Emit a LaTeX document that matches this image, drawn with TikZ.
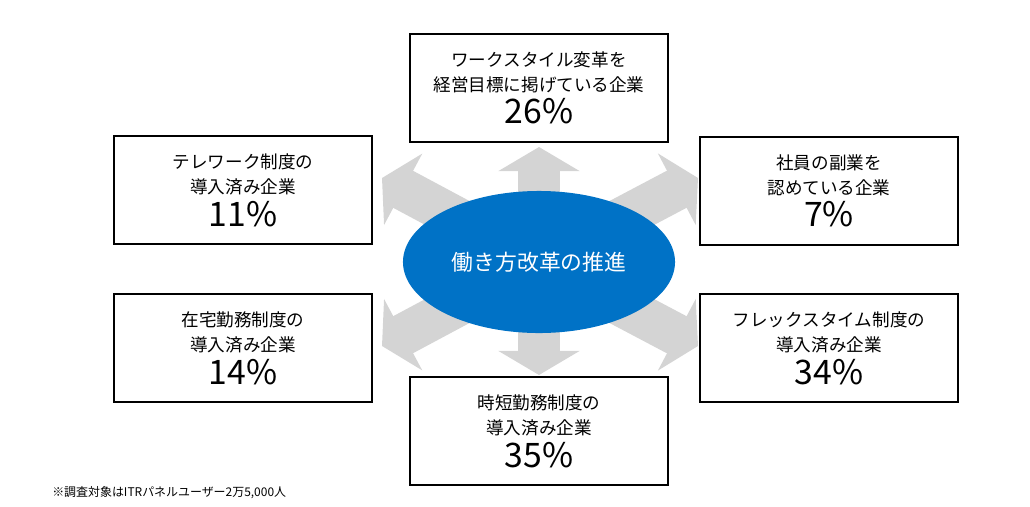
\documentclass[tikz,border=0pt]{standalone}
\usepackage{fontspec}
\setmainfont{Noto Sans CJK JP}
\usetikzlibrary{arrows.meta,shapes.geometric}
\definecolor{ellblue}{RGB}{0,114,198}
\definecolor{arrgray}{RGB}{212,212,212}
\tikzset{
  box/.style={draw, line width=1.2pt, minimum width=6.45cm, minimum height=2.7cm, inner sep=0pt,
    align=center, font=\fontsize{12.5}{18}\selectfont},
  blk/.style={draw=arrgray, line width=1.05cm, -{Triangle[length=0.6cm 0, width=2cm 0]}}
}
\newcommand{\boxtext}[3]{#1\\#2\\[3pt]{\fontsize{24}{24}\selectfont #3}}
\begin{document}
\begin{tikzpicture}[x=0.025cm, y=-0.025cm]
\useasboundingbox (0,0) rectangle (1030,506);
% center
\coordinate (c) at (539,262);
\coordinate (tu) at (539,147);
\coordinate (td) at (539,375);
\coordinate (tul) at (382,178);
\coordinate (tll) at (382,346);
\coordinate (tur) at (698,178);
\coordinate (tlr) at (698,346);
\foreach \t in {tu,td,tul,tll,tur,tlr}
  \draw[blk] (c) -- (\t);
\node[ellipse, fill=ellblue, minimum width=6.8cm, minimum height=3.55cm, text=white,
  font=\fontsize{15.5}{18}\selectfont] (main) at (c) {働き方改革の推進};
% boxes
\node[box] (top) at (539,88) {\boxtext{ワークスタイル変革を}{経営目標に掲げている企業}{26\%}};
\node[box] (tele) at (243,190) {\boxtext{テレワーク制度の}{導入済み企業}{11\%}};
\node[box] (side) at (829,191) {\boxtext{社員の副業を}{認めている企業}{7\%}};
\node[box] (home) at (243,348) {\boxtext{在宅勤務制度の}{導入済み企業}{14\%}};
\node[box] (flex) at (829,348) {\boxtext{フレックスタイム制度の}{導入済み企業}{34\%}};
\node[box] (short) at (539,431) {\boxtext{時短勤務制度の}{導入済み企業}{35\%}};
\node[anchor=west, font=\fontsize{8.5}{10}\selectfont, inner sep=0pt] (note) at (52,493) {※調査対象はITRパネルユーザー2万5,000人};
\end{tikzpicture}
\end{document}
